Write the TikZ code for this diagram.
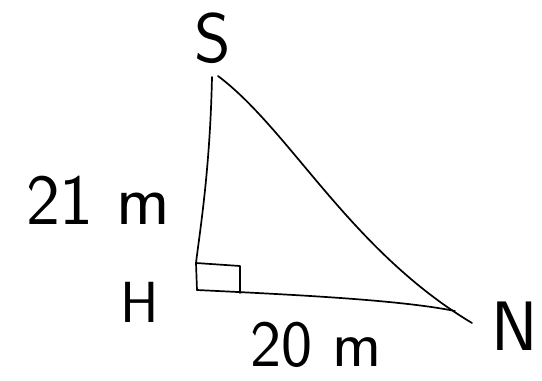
\documentclass[tikz,border=0pt]{standalone}
\begin{document}
\begin{tikzpicture}[x=1pt,y=-1pt,
  stroke/.style={line width=1.7pt,line cap=round,line join=round},
  lbl/.style={inner sep=0pt,font=\sffamily\fontsize{#1}{#1}\selectfont}]
\useasboundingbox (0,0) rectangle (542,381);
\coordinate (Stop) at (212,77);
\coordinate (Shyp) at (218,76);
\coordinate (Hbox) at (196,263);
\coordinate (H) at (197,290);
\coordinate (Nbot) at (455,311);
\coordinate (N) at (472,323);
\coordinate (B1) at (240,266);
\coordinate (B2) at (240,293);
% legs
\draw[stroke] (Stop) .. controls (210,170) and (200,230) .. (Hbox) -- (H);
\draw[stroke] (H) .. controls (300,295) and (400,300) .. (Nbot);
% hypotenuse
\draw[stroke] (Shyp) .. controls (290,130) and (350,250) .. (N);
% right-angle mark
\draw[stroke] (Hbox) -- (B1) -- (B2);
% labels
\node[lbl=70] (lS) at (213,38) {S};
\node[lbl=72] (l21) at (98,200) {21 m};
\node[lbl=58] (lH) at (140,302) {H};
\node[lbl=66] (l20) at (316,345) {20 m};
\node[lbl=70] (lN) at (515,326) {N};
\end{tikzpicture}
\end{document}
